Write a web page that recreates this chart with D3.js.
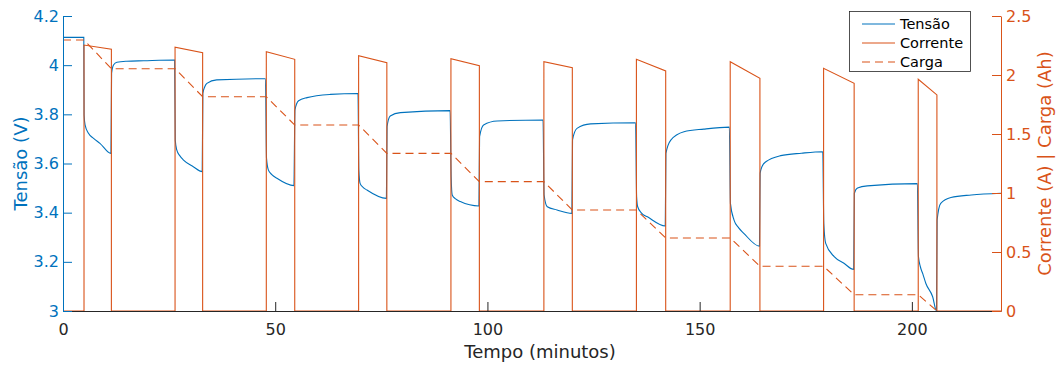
<!DOCTYPE html>
<html>
<head>
<meta charset="utf-8">
<title>Tensão, corrente e carga</title>
<style>
  body { margin: 0; background: #fff; }
  text { font-family: "DejaVu Sans", sans-serif; }
</style>
</head>
<body>
<svg id="chart" width="1059" height="365"></svg>
<script src="https://cdn.jsdelivr.net/npm/d3@7/dist/d3.min.js"></script>
<script>
// pulsos de descarga (minutos)
var pulseStart = [4.95, 26.4, 47.9, 69.65, 91.4, 113.3, 135.1, 157.2, 179.2, 201.5];
var pulseEnd   = [11.4, 32.9, 54.6, 76.3, 98.1, 120.0, 142.0, 164.2, 186.4, 205.9];
// corrente no inicio e no fim de cada pulso (A)
var currentStart = [2.254, 2.235, 2.198, 2.164, 2.139, 2.113, 2.133, 2.113, 2.057, 1.964];
var currentEnd   = [2.218, 2.189, 2.133, 2.105, 2.079, 2.062, 2.034, 1.972, 1.930, 1.831];
// carga restante antes de cada pulso, e no fim (Ah)
var chargeLevels = [2.297, 2.053, 1.816, 1.576, 1.336, 1.096, 0.856, 0.619, 0.379, 0.138, 0];
var tEnd = 221;

// tensao [minutos, V]
var tension = [
  [0, 4.113], [4.9, 4.113],
  [4.97, 3.797], [5.2, 3.757], [6.0, 3.723], [7.2, 3.702], [8.7, 3.682], [11.3, 3.641],
  [11.45, 3.967], [11.9, 4.001], [12.7, 4.012], [15.0, 4.016], [19.0, 4.018], [26.3, 4.021],
  [26.45, 3.695], [26.8, 3.655], [27.5, 3.632], [28.4, 3.614], [30.7, 3.587], [32.8, 3.567],
  [32.95, 3.885], [33.4, 3.912], [33.9, 3.926], [36.2, 3.940], [47.7, 3.945],
  [47.95, 3.621], [48.4, 3.573], [49.2, 3.555], [50.4, 3.540], [54.4, 3.510],
  [54.65, 3.818], [55.5, 3.855], [57.5, 3.868], [63.0, 3.881], [69.5, 3.885],
  [69.7, 3.573], [70.0, 3.519], [70.7, 3.503], [71.6, 3.492], [76.2, 3.458],
  [76.35, 3.750], [77.1, 3.793], [79.5, 3.807], [91.2, 3.815],
  [91.45, 3.546], [91.7, 3.472], [92.5, 3.456], [93.6, 3.445], [98.0, 3.427],
  [98.15, 3.709], [99.1, 3.757], [102.3, 3.773], [113.1, 3.777],
  [113.35, 3.472], [114.1, 3.424], [116.4, 3.411], [119.9, 3.397],
  [120.05, 3.696], [121.1, 3.743], [124.3, 3.761], [134.9, 3.766],
  [135.15, 3.465], [135.4, 3.424], [136.3, 3.398], [137.7, 3.383], [141.9, 3.346],
  [142.05, 3.641], [143.2, 3.695], [146.3, 3.729], [151.0, 3.740], [157.0, 3.748],
  [157.25, 3.438], [158.1, 3.370], [159.2, 3.338], [160.4, 3.316], [164.1, 3.264],
  [164.25, 3.560], [164.7, 3.588], [165.6, 3.607], [169.1, 3.632], [174.0, 3.642], [179.0, 3.648],
  [179.25, 3.356], [179.7, 3.275], [181.7, 3.221], [184.0, 3.194], [186.3, 3.169],
  [186.45, 3.479], [187.2, 3.500], [189.5, 3.509], [201.3, 3.518],
  [201.55, 3.221], [202.0, 3.180], [202.6, 3.150], [203.3, 3.112], [204.9, 3.058], [205.8, 3.0],
  [205.95, 3.370], [206.8, 3.438], [209.2, 3.462], [214.0, 3.472], [221, 3.479]
];

var timeTicks = [0, 50, 100, 150, 200];
var voltTicks = [3, 3.2, 3.4, 3.6, 3.8, 4, 4.2];
var ampTicks = [0, 0.5, 1, 1.5, 2, 2.5];

var blue = "#0072BD", orange = "#D95319", dark = "#262626";

var margin = {top: 16, right: 58, bottom: 54, left: 63};
var width = 1059 - margin.left - margin.right;
var height = 365 - margin.top - margin.bottom;

// series montadas a partir dos valores lidos
var current = [[0, 0]];
var charge = [[0, chargeLevels[0]]];
for (var i = 0; i < pulseStart.length; ++i) {
  current.push([pulseStart[i], 0], [pulseStart[i], currentStart[i]],
               [pulseEnd[i], currentEnd[i]], [pulseEnd[i], 0]);
  charge.push([pulseStart[i], chargeLevels[i]], [pulseEnd[i], chargeLevels[i + 1]]);
}
current.push([tEnd, 0]);

var svg = d3.select("#chart");
var g = svg.append("g").attr("transform", "translate(" + margin.left + "," + margin.top + ")");

var x = d3.scaleLinear().domain([0, tEnd]).range([0, width]);
var yV = d3.scaleLinear().domain([3, 4.2]).range([height, 0]);
var yA = d3.scaleLinear().domain([0, 2.5]).range([height, 0]);

var lineV = d3.line().x(function(d) { return x(d[0]); }).y(function(d) { return yV(d[1]); })
              .curve(d3.curveMonotoneX);
var lineA = d3.line().x(function(d) { return x(d[0]); }).y(function(d) { return yA(d[1]); });

g.append("path").datum(tension).attr("d", lineV)
  .attr("fill", "none").attr("stroke", blue).attr("stroke-width", 1.1);
g.append("path").datum(current).attr("d", lineA)
  .attr("fill", "none").attr("stroke", orange).attr("stroke-width", 1.1);
g.append("path").datum(charge).attr("d", lineA)
  .attr("fill", "none").attr("stroke", orange).attr("stroke-width", 1.1)
  .attr("stroke-dasharray", "8,5");

// eixos
var ax = g.append("g").attr("transform", "translate(0," + height + ")")
  .call(d3.axisBottom(x).tickValues(timeTicks).tickSizeInner(-9).tickSizeOuter(0).tickPadding(12.6));
ax.selectAll("path,line").attr("stroke", dark);
ax.selectAll("text").attr("fill", dark).style("font-size", "16px");

var al = g.append("g")
  .call(d3.axisLeft(yV).tickValues(voltTicks).tickFormat(d3.format("~g"))
        .tickSizeInner(-9).tickSizeOuter(0).tickPadding(4));
al.selectAll("path,line").attr("stroke", blue);
al.selectAll("text").attr("fill", blue).style("font-size", "16px");

var ar = g.append("g").attr("transform", "translate(" + width + ",0)")
  .call(d3.axisRight(yA).tickValues(ampTicks).tickFormat(d3.format("~g"))
        .tickSizeInner(-9).tickSizeOuter(0).tickPadding(5));
ar.selectAll("path,line").attr("stroke", orange);
ar.selectAll("text").attr("fill", orange).style("font-size", "16px");

svg.selectAll(".domain").attr("stroke-width", 1);
svg.selectAll(".tick line").attr("stroke-width", 1);

// rotulos
svg.append("text").attr("x", 540).attr("y", 358)
  .attr("text-anchor", "middle").attr("fill", dark).style("font-size", "18px")
  .text("Tempo (minutos)");
svg.append("text").attr("transform", "translate(27," + (margin.top + height / 2) + ") rotate(-90)")
  .attr("text-anchor", "middle").attr("fill", blue).style("font-size", "18px")
  .text("Tensão (V)");
svg.append("text").attr("transform", "translate(1051," + (margin.top + height / 2) + ") rotate(-90)")
  .attr("text-anchor", "middle").attr("fill", orange).style("font-size", "18px")
  .text("Corrente (A) | Carga (Ah)");

// legenda
var legendItems = ["Tensão", "Corrente", "Carga"];
var legendColors = [blue, orange, orange];
var legendDash = [null, null, "8,5"];
var lg = svg.append("g");
lg.append("rect").attr("x", 849.5).attr("y", 11.5).attr("width", 121).attr("height", 60)
  .attr("fill", "#fff").attr("stroke", dark).attr("stroke-width", 0.8);
legendItems.forEach(function(name, k) {
  var yy = 24 + k * 19;
  lg.append("line").attr("x1", 862).attr("x2", 895).attr("y1", yy).attr("y2", yy)
    .attr("stroke", legendColors[k]).attr("stroke-width", 1.1)
    .attr("stroke-dasharray", legendDash[k]);
  lg.append("text").attr("x", 900).attr("y", yy).attr("dy", "0.35em")
    .attr("fill", "#000").style("font-size", "14.5px").text(name);
});
</script>
</body>
</html>
